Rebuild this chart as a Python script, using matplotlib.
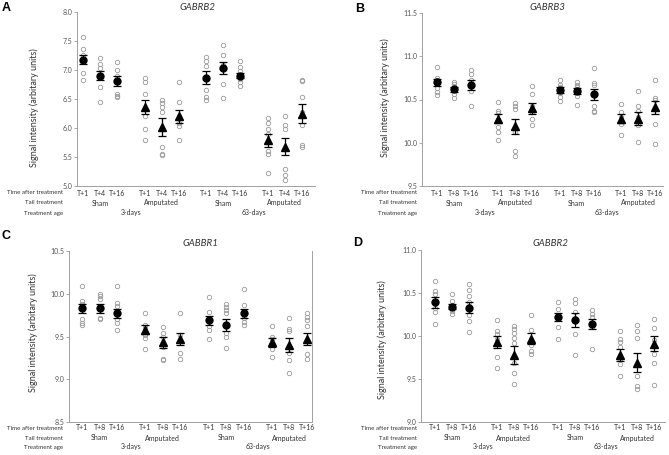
import numpy as np
import matplotlib
matplotlib.use("Agg")
import matplotlib.pyplot as plt
from matplotlib.transforms import blended_transform_factory

plt.rcParams['font.family'] = ['Lato', 'DejaVu Sans']

W, H = 669, 455
groups = ["Sham", "Amputated", "Sham", "Amputated"]
ages = ["3-days", "63-days"]
times_A = ["T+1", "T+4", "T+16"] * 4
times_B = ["T+1", "T+8", "T+16"] * 4

# panel A  GABRB2
means_A = [7.18, 6.90, 6.81, 6.36, 6.02, 6.20, 6.87, 7.03, 6.90, 5.79, 5.68, 6.25]
err_A = [0.085, 0.08, 0.08, 0.125, 0.155, 0.115, 0.105, 0.10, 0.04, 0.115, 0.145, 0.16]
pts_A = [[7.57, 7.36, 7.26, 7.18, 6.95, 6.82],
         [7.20, 7.10, 7.03, 6.91, 6.71, 6.45],
         [7.14, 7.00, 6.89, 6.59, 6.56, 6.54],
         [6.87, 6.79, 6.58, 6.20, 5.99, 5.80],
         [6.49, 6.43, 6.37, 6.28, 5.68, 5.55, 5.53],
         [6.79, 6.45, 6.20, 6.08, 6.03, 5.80],
         [7.23, 7.16, 7.07, 6.66, 6.54, 6.49],
         [7.43, 7.26, 7.09, 6.76, 6.51],
         [7.16, 7.06, 6.99, 6.84, 6.79, 6.72],
         [6.18, 6.08, 5.98, 5.90, 5.61, 5.55, 5.23],
         [6.21, 6.06, 5.99, 5.29, 5.19, 5.11],
         [6.83, 6.81, 6.54, 6.28, 6.05, 5.71, 5.68]]

# panel B  GABRB3
means_B = [10.70, 10.62, 10.67, 10.28, 10.19, 10.40, 10.61, 10.60, 10.56, 10.28, 10.28, 10.41]
err_B = [0.04, 0.03, 0.055, 0.055, 0.09, 0.065, 0.03, 0.035, 0.065, 0.05, 0.07, 0.075]
pts_B = [[10.87, 10.75, 10.73, 10.69, 10.63, 10.59, 10.55],
         [10.70, 10.68, 10.65, 10.62, 10.56, 10.52],
         [10.84, 10.79, 10.72, 10.67, 10.60, 10.43],
         [10.47, 10.37, 10.34, 10.26, 10.18, 10.12, 10.03],
         [10.46, 10.42, 10.39, 10.12, 9.90, 9.85],
         [10.66, 10.56, 10.43, 10.35, 10.28, 10.20],
         [10.72, 10.67, 10.64, 10.57, 10.53, 10.48],
         [10.70, 10.67, 10.64, 10.60, 10.54, 10.44],
         [10.86, 10.69, 10.67, 10.43, 10.37, 10.35],
         [10.45, 10.35, 10.30, 10.25, 10.22, 10.09],
         [10.60, 10.43, 10.37, 10.30, 10.20, 10.01],
         [10.72, 10.52, 10.50, 10.22, 9.99]]

# panel C  GABBR1
means_C = [9.83, 9.83, 9.77, 9.58, 9.43, 9.47, 9.69, 9.63, 9.77, 9.43, 9.40, 9.47]
err_C = [0.05, 0.05, 0.055, 0.055, 0.06, 0.075, 0.05, 0.07, 0.05, 0.05, 0.085, 0.07]
pts_C = [[10.09, 9.91, 9.88, 9.70, 9.66, 9.63],
         [10.00, 9.97, 9.94, 9.86, 9.72, 9.70],
         [10.09, 9.89, 9.86, 9.70, 9.66, 9.58],
         [9.77, 9.63, 9.60, 9.52, 9.48, 9.35],
         [9.61, 9.54, 9.50, 9.43, 9.38, 9.24, 9.23],
         [9.77, 9.52, 9.45, 9.31, 9.24],
         [9.96, 9.79, 9.71, 9.62, 9.58, 9.47],
         [9.88, 9.84, 9.81, 9.78, 9.54, 9.50, 9.36],
         [10.05, 9.87, 9.78, 9.72, 9.67, 9.63],
         [9.62, 9.50, 9.47, 9.41, 9.35, 9.26],
         [9.72, 9.59, 9.56, 9.31, 9.22, 9.07],
         [9.77, 9.73, 9.69, 9.62, 9.29, 9.24]]

# panel D  GABBR2
means_D = [10.39, 10.34, 10.33, 9.93, 9.78, 9.97, 10.22, 10.19, 10.14, 9.78, 9.69, 9.91]
err_D = [0.06, 0.03, 0.065, 0.07, 0.105, 0.06, 0.05, 0.08, 0.055, 0.065, 0.11, 0.085]
pts_D = [[10.64, 10.52, 10.49, 10.32, 10.28, 10.14],
         [10.49, 10.41, 10.36, 10.29, 10.26],
         [10.60, 10.53, 10.47, 10.39, 10.24, 10.18, 10.05],
         [10.19, 10.06, 10.02, 9.97, 9.76, 9.63],
         [10.12, 10.08, 10.03, 9.98, 9.92, 9.69, 9.57, 9.44],
         [10.25, 10.07, 9.97, 9.89, 9.83, 9.79],
         [10.39, 10.31, 10.24, 10.11, 9.96],
         [10.43, 10.38, 10.28, 10.21, 10.02, 9.78],
         [10.30, 10.26, 10.22, 10.10, 9.85],
         [10.06, 9.97, 9.93, 9.87, 9.78, 9.73, 9.67, 9.53],
         [10.13, 10.06, 9.98, 9.54, 9.42, 9.38],
         [10.20, 10.09, 9.95, 9.79, 9.69, 9.43]]

xpos = np.array([0, 1, 2, 3.6, 4.6, 5.6, 7.2, 8.2, 9.2, 10.8, 11.8, 12.8])

panels = [
    # letter, title, means, err, pts, times, ylim, ticks, box px (l, t, r, b), xlim, letter xy, title xy, ylabel xy, row y, row x, right spine
    ("A", "GABRB2", means_A, err_A, pts_A, times_A, (5.0, 8.0), np.arange(5.0, 8.01, 0.5),
     (77, 12, 315, 186), (-0.35, 13.56), (2, 8), (197, 7), (34, 108), (193, 203, 213), 63, False),
    ("B", "GABRB3", means_B, err_B, pts_B, times_B, (9.5, 11.5), np.arange(9.5, 11.51, 0.5),
     (422, 13, 663, 186), (-0.88, 13.27), (355, 9), (547, 7), (385, 98), (193, 203, 213), 417, False),
    ("C", "GABBR1", means_C, err_C, pts_C, times_B, (8.5, 10.5), np.arange(8.5, 10.51, 0.5),
     (69, 251, 312, 422), (-0.74, 13.08), (2, 236), (200, 243), (33, 333), (428, 438, 447), 63, True),
    ("D", "GABBR2", means_D, err_D, pts_D, times_B, (9.0, 11.0), np.arange(9.0, 11.01, 0.5),
     (421, 250, 665, 422), (-0.82, 13.44), (353, 243), (550, 243), (382, 340), (428, 438, 447), 417, False),
]

txt = '#333333'
gray = '#9a9a9a'

fig = plt.figure(figsize=(W / 100, H / 100), dpi=100)

for (letter, title, means, err, pts, times, ylim, ticks, box, xlim,
     lxy, txy, yxy, rows, rowx, rspine) in panels:
    l, t, r, b = box
    ax = fig.add_axes([l / W, 1 - b / H, (r - l) / W, (b - t) / H])
    for i in range(12):
        ax.plot([xpos[i]] * len(pts[i]), pts[i], 'o', ms=3.2, mfc='none',
                mec=gray, mew=0.6, zorder=2)
    for k in range(4):
        idx = slice(3 * k, 3 * k + 3)
        mk = 'o' if k % 2 == 0 else '^'
        ax.errorbar(xpos[idx], means[idx], yerr=err[idx], fmt=mk, color='black',
                    ms=5 if mk == 'o' else 5.5, elinewidth=0.9, capsize=3, capthick=0.9,
                    zorder=3)
    ax.set_xlim(*xlim)
    ax.set_ylim(*ylim)
    ax.set_yticks(ticks)
    ax.set_yticklabels(["%.1f" % v for v in ticks], fontsize=5, color='#555555')
    ax.set_xticks([])
    ax.tick_params(axis='y', length=2, width=0.6, color=gray, pad=1)
    for s in ['top', 'right']:
        ax.spines[s].set_visible(False)
    if rspine:
        ax.spines['right'].set_visible(True)
    for s in ['left', 'bottom', 'right']:
        ax.spines[s].set_color('#a0a0a0')
        ax.spines[s].set_linewidth(0.7)

    tr = blended_transform_factory(ax.transData, fig.transFigure)
    for i in range(12):
        ax.text(xpos[i], 1 - rows[0] / H, times[i], transform=tr, ha='center',
                va='center', fontsize=5, color=txt)
    for k in range(4):
        ax.text(xpos[3 * k + 1], 1 - rows[1] / H, groups[k], transform=tr, ha='center',
                va='center', fontsize=5, color=txt)
    for k in range(2):
        ax.text((xpos[6 * k + 1] + xpos[6 * k + 4]) / 2, 1 - rows[2] / H, ages[k],
                transform=tr, ha='center', va='center', fontsize=5, color=txt)
    for j, lab in enumerate(["Time after treatment", "Tail treatment", "Treatment age"]):
        fig.text(rowx / W, 1 - rows[j] / H, lab, ha='right', va='center', fontsize=4.4, color=txt)

    fig.text(lxy[0] / W, 1 - lxy[1] / H, letter, ha='left', va='center',
             fontsize=9, fontweight='bold', family=['Liberation Sans', 'DejaVu Sans'])
    fig.text(txy[0] / W, 1 - txy[1] / H, title, ha='center', va='center',
             fontsize=7, style='italic', color=txt)
    fig.text(yxy[0] / W, 1 - yxy[1] / H, "Signal intensity (arbitary units)", ha='center',
             va='center', rotation=90, fontsize=6.5, color=txt)

fig.savefig("out.png", dpi=100)
